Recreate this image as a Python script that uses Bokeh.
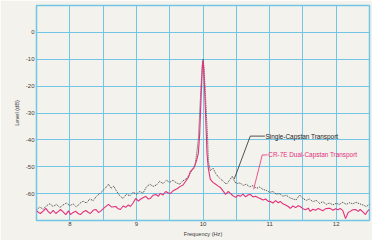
from bokeh.plotting import figure
from bokeh.models import FixedTicker, Range1d, Label
from bokeh.embed import file_html
from bokeh.resources import INLINE

# ---- data ----
single_f = [7.50, 7.55, 7.60, 7.65, 7.70, 7.75, 7.80, 7.85, 7.90, 7.95,
            8.00, 8.05, 8.10, 8.15, 8.20, 8.25, 8.30, 8.35, 8.40, 8.45,
            8.50, 8.55, 8.58, 8.62, 8.66, 8.70, 8.75, 8.80, 8.85, 8.90,
            8.95, 9.00, 9.05, 9.10, 9.15, 9.20, 9.25, 9.30, 9.35, 9.40,
            9.45, 9.50, 9.55, 9.60, 9.65, 9.70, 9.75, 9.80, 9.85, 9.88,
            9.90, 9.93, 9.95, 9.97, 9.99, 10.00, 10.01, 10.03, 10.05, 10.07,
            10.08, 10.11, 10.15, 10.19, 10.23, 10.27, 10.31, 10.35, 10.40, 10.44,
            10.48, 10.52, 10.56, 10.60, 10.65, 10.70, 10.75, 10.80, 10.85, 10.90,
            10.95, 11.00, 11.05, 11.10, 11.15, 11.20, 11.25, 11.30, 11.35, 11.40,
            11.45, 11.50, 11.55, 11.60, 11.65, 11.70, 11.75, 11.80, 11.85, 11.90,
            11.95, 12.00, 12.05, 12.10, 12.15, 12.20, 12.25, 12.30, 12.35, 12.40,
            12.45, 12.50]
single_db = [-66.0, -65.0, -65.8, -64.5, -63.8, -64.8, -64.0, -65.2, -64.2, -63.5,
             -64.5, -63.8, -65.0, -63.6, -62.8, -63.5, -62.0, -62.6, -61.0, -60.0,
             -58.8, -57.5, -56.5, -58.0, -57.2, -59.0, -60.8, -61.8, -60.2, -60.8,
             -59.5, -60.2, -59.2, -59.8, -57.5, -56.5, -57.3, -56.8, -55.4, -56.3,
             -55.0, -55.8, -55.0, -56.0, -56.5, -55.2, -54.5, -52.8, -50.5, -49.5,
             -46.0, -40.0, -30.0, -20.0, -12.0, -10.0, -12.0, -20.0, -30.0, -40.0,
             -48.0, -51.5, -50.5, -52.5, -53.8, -54.7, -55.5, -56.5, -55.0, -53.5,
             -55.8, -56.2, -56.0, -57.0, -56.5, -57.5, -57.0, -58.0, -57.6, -58.4,
             -58.8, -59.5, -59.2, -60.2, -60.0, -61.0, -60.6, -61.5, -62.0, -62.3,
             -60.5, -61.8, -62.5, -62.0, -63.0, -62.5, -63.6, -63.0, -64.0, -63.5,
             -64.2, -63.6, -64.0, -63.2, -64.0, -63.4, -63.8, -63.2, -63.8, -64.2,
             -64.8, -64.0]

dual_f = [7.50, 7.53, 7.56, 7.60, 7.64, 7.68, 7.71, 7.75, 7.79, 7.83,
          7.86, 7.90, 7.94, 7.98, 8.01, 8.05, 8.09, 8.13, 8.16, 8.20,
          8.24, 8.28, 8.31, 8.35, 8.39, 8.43, 8.46, 8.52, 8.58, 8.63,
          8.69, 8.72, 8.76, 8.80, 8.84, 8.88, 8.91, 8.95, 8.99, 9.03,
          9.06, 9.10, 9.14, 9.18, 9.21, 9.25, 9.29, 9.33, 9.36, 9.40,
          9.44, 9.48, 9.51, 9.56, 9.61, 9.66, 9.70, 9.74, 9.78, 9.81,
          9.86, 9.90, 9.93, 9.95, 9.97, 9.99, 10.00, 10.01, 10.03, 10.05,
          10.06, 10.08, 10.11, 10.15, 10.19, 10.23, 10.26, 10.30, 10.34, 10.38,
          10.41, 10.45, 10.49, 10.53, 10.56, 10.60, 10.64, 10.68, 10.71, 10.75,
          10.79, 10.83, 10.86, 10.90, 10.94, 10.98, 11.01, 11.05, 11.09, 11.13,
          11.16, 11.20, 11.24, 11.28, 11.31, 11.35, 11.39, 11.43, 11.46, 11.50,
          11.54, 11.58, 11.61, 11.65, 11.69, 11.73, 11.76, 11.80, 11.84, 11.88,
          11.91, 11.95, 11.99, 12.03, 12.06, 12.10, 12.14, 12.18, 12.21, 12.25,
          12.29, 12.33, 12.36, 12.40, 12.44, 12.47, 12.50]
dual_db = [-66.3, -67.0, -67.4, -66.5, -65.5, -66.8, -67.4, -66.2, -67.4, -66.6,
           -65.9, -66.8, -67.8, -66.4, -67.8, -67.0, -66.6, -67.5, -67.8, -66.8,
           -66.3, -67.0, -67.4, -66.2, -65.9, -67.0, -66.6, -65.2, -64.0, -65.0,
           -64.8, -65.5, -65.9, -64.6, -65.1, -64.2, -64.8, -63.5, -61.8, -62.8,
           -62.1, -61.5, -61.0, -62.0, -61.8, -60.6, -60.3, -61.0, -59.9, -60.5,
           -59.2, -59.8, -59.9, -58.8, -58.2, -57.3, -56.8, -55.4, -54.0, -51.7,
           -50.6, -48.0, -45.0, -38.0, -25.0, -13.0, -10.5, -13.0, -25.0, -38.0,
           -45.0, -50.6, -54.7, -55.8, -56.5, -57.2, -57.7, -59.0, -60.3, -59.2,
           -59.9, -60.8, -61.4, -60.6, -61.0, -60.2, -61.2, -60.4, -60.3, -61.2,
           -61.0, -61.5, -61.8, -62.4, -62.0, -62.9, -62.9, -63.5, -62.6, -63.4,
           -62.9, -63.8, -64.2, -64.8, -65.5, -64.6, -65.2, -64.5, -64.8, -65.6,
           -66.0, -65.4, -66.6, -65.8, -66.2, -65.5, -65.9, -66.4, -65.6, -65.5,
           -65.5, -66.2, -65.6, -66.0, -65.5, -66.3, -69.3, -67.0, -66.6, -66.0,
           -65.9, -66.6, -65.9, -66.8, -67.8, -66.5, -65.9]

x_ticks = [8, 9, 10, 11, 12]
x_tick_labels = ["8", "9", "10", "11", "12"]
x_grid = [7.5, 8, 8.5, 9, 9.5, 10, 10.5, 11, 11.5, 12, 12.5]
y_ticks = [0, -10, -20, -30, -40, -50, -60]
y_tick_labels = ["0", "-10", "-20", "-30", "-40", "-50", "-60"]
y_grid = [10, 0, -10, -20, -30, -40, -50, -60, -70]
series_names = ["Single-Capstan Transport", "CR-7E Dual-Capstan Transport"]
x_title = "Frequency (Hz)"
y_title = "Level (dB)"

# ---- styling ----
PAPER = "#f3f2ec"
GRID = "#72c5e4"
PINK = "#e2307c"
DARK = "#3a3a3a"
FONT = "Liberation Sans"

p = figure(width=372, height=240, output_backend="svg", toolbar_location=None,
           x_range=Range1d(7.5, 12.5), y_range=Range1d(-70, 10),
           min_border_left=36, min_border_right=3, min_border_top=5, min_border_bottom=20)
p.background_fill_color = PAPER
p.border_fill_color = PAPER
p.outline_line_color = GRID
p.outline_line_width = 1.5

p.xgrid.ticker = FixedTicker(ticks=x_grid)
p.ygrid.ticker = FixedTicker(ticks=y_grid)
for g in (p.xgrid, p.ygrid):
    g.grid_line_color = GRID
    g.grid_line_width = 1

p.xaxis.ticker = FixedTicker(ticks=x_ticks)
p.xaxis.major_label_overrides = {t: s for t, s in zip(x_ticks, x_tick_labels)}
p.yaxis.ticker = FixedTicker(ticks=y_ticks)
p.yaxis.major_label_overrides = {t: s for t, s in zip(y_ticks, y_tick_labels)}
p.xaxis.axis_label = x_title
p.yaxis.axis_label = y_title
for ax in (p.xaxis, p.yaxis):
    ax.axis_line_color = None
    ax.major_tick_line_color = None
    ax.minor_tick_line_color = None
    ax.major_tick_out = 0
    ax.major_tick_in = 0
    ax.major_label_text_font = FONT
    ax.major_label_text_font_size = "6px"
    ax.major_label_text_color = DARK
    ax.axis_label_text_font = FONT
    ax.axis_label_text_font_size = "5.6px"
    ax.axis_label_text_font_style = "normal"
    ax.axis_label_text_color = DARK
p.xaxis.major_label_standoff = 1
p.xaxis.axis_label_standoff = 2
p.yaxis.major_label_standoff = 2
p.yaxis.axis_label_standoff = 3

p.line(single_f, single_db, line_color="#2a2a2a", line_width=0.9, line_dash="1 1")
p.line(dual_f, dual_db, line_color=PINK, line_width=1.1)

# leader lines + labels
p.line([10.47, 10.71, 10.93], [-54.5, -38.6, -38.6], line_color="#2a2a2a", line_width=0.8)
p.line([10.76, 10.89, 10.97], [-58.4, -45.6, -45.6], line_color=PINK, line_width=0.8)
p.add_layout(Label(x=10.94, y=-38.6, text=series_names[0], text_font=FONT,
                   text_font_size="6.4px", text_color="#222222", text_baseline="middle"))
p.add_layout(Label(x=10.98, y=-45.4, text=series_names[1], text_font=FONT,
                   text_font_size="6.4px", text_color=PINK, text_baseline="middle"))

open("out.html", "w").write(file_html(p, INLINE))
